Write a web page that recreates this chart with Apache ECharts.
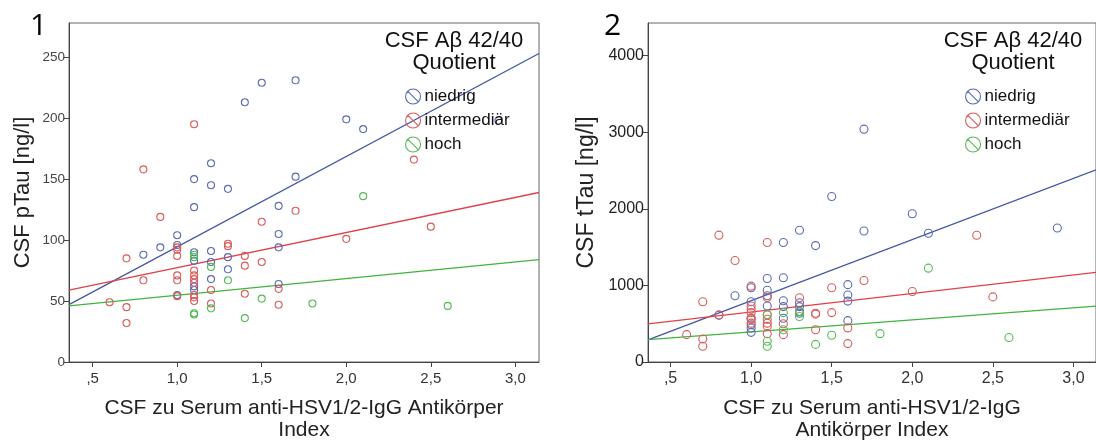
<!DOCTYPE html>
<html><head><meta charset="utf-8">
<script src="https://cdn.jsdelivr.net/npm/echarts@6/dist/echarts.min.js"></script>
<style>html,body{margin:0;padding:0;background:#fff}#c{width:1096px;height:446px}</style>
</head><body><div id="c"></div>
<script>
// ---- data ----
const groupNames = ['niedrig', 'intermediär', 'hoch'];
const xTickValues = [0.5, 1.0, 1.5, 2.0, 2.5, 3.0];
const xTickLabels = [',5', '1,0', '1,5', '2,0', '2,5', '3,0'];
const yTicksP = [0, 50, 100, 150, 200, 250];
const yTicksT = [0, 1000, 2000, 3000, 4000];

const pNiedrig = [[0.8,88],[0.9,94],[1.0,104],[1.0,96],[1.0,55],[1.1,150],[1.1,127],[1.1,90],[1.1,83],[1.1,62],[1.1,59],[1.2,163],[1.2,145],[1.2,91],[1.2,82],[1.2,68],[1.3,142],[1.3,86],[1.3,76],[1.4,213],[1.5,229],[1.6,128],[1.6,105],[1.6,94],[1.6,64],[1.7,231],[1.7,152],[2.0,199],[2.1,191],[2.9,198]];
const pIntermed = [[0.6,49],[0.7,85],[0.7,45],[0.7,32],[0.8,158],[0.8,67],[0.9,119],[1.0,94],[1.0,92],[1.0,87],[1.0,71],[1.0,67],[1.0,54],[1.1,195],[1.1,75],[1.1,71],[1.1,68],[1.1,65],[1.1,55],[1.1,53],[1.1,50],[1.2,59],[1.2,48],[1.3,97],[1.3,95],[1.4,87],[1.4,79],[1.4,56],[1.5,115],[1.5,82],[1.6,60],[1.6,47],[1.7,124],[2.0,101],[2.4,166],[2.5,111]];
const pHoch = [[1.1,88],[1.1,86],[1.1,40],[1.1,39],[1.2,78],[1.2,44],[1.3,67],[1.4,36],[1.5,52],[1.8,48],[2.1,136],[2.6,46]];
const pFitNiedrig = [[0.36,47],[3.14,253]];
const pFitIntermed = [[0.36,59],[3.14,139]];
const pFitHoch = [[0.36,46],[3.14,84]];

const tNiedrig = [[0.8,610],[0.9,865],[1.0,970],[1.0,787],[1.0,572],[1.0,486],[1.0,443],[1.0,387],[1.1,1090],[1.1,937],[1.1,865],[1.1,731],[1.2,1560],[1.2,1100],[1.2,800],[1.2,723],[1.2,572],[1.3,1720],[1.3,774],[1.3,723],[1.3,658],[1.3,637],[1.4,1520],[1.5,2160],[1.6,1010],[1.6,875],[1.6,795],[1.6,540],[1.7,3040],[1.7,1710],[2.0,1935],[2.1,1680],[2.9,1750]];
const tIntermed = [[0.6,357],[0.7,787],[0.7,301],[0.7,206],[0.8,1656],[0.8,615],[0.9,1325],[1.0,990],[1.0,731],[1.0,688],[1.0,645],[1.0,572],[1.0,550],[1.0,507],[1.1,1561],[1.1,843],[1.1,615],[1.1,559],[1.1,507],[1.1,465],[1.1,370],[1.2,499],[1.2,357],[1.3,839],[1.3,660],[1.4,637],[1.4,625],[1.4,421],[1.5,970],[1.5,645],[1.6,445],[1.6,240],[1.7,1065],[2.0,920],[2.4,1655],[2.5,850]];
const tHoch = [[1.1,620],[1.1,271],[1.1,206],[1.2,645],[1.2,421],[1.3,594],[1.3,660],[1.4,230],[1.5,350],[1.8,370],[2.1,1225],[2.6,320]];
const tFitNiedrig = [[0.36,290],[3.14,2510]];
const tFitIntermed = [[0.36,499],[3.14,1169]];
const tFitHoch = [[0.36,293],[3.14,729]];

// ---- styling ----
const ptColors = ['#5a6bb2', '#d95c5c', '#55b955'];
const lineColors = ['#4256a6', '#e0404a', '#3fb43f'];
const FONT = 'Liberation Sans';
const legendIcon = 'path://M0,10A10,10 0 1,1 20,10A10,10 0 1,1 0,10Z M2.5,2.5L17.5,17.5';

const chart = echarts.init(document.getElementById('c'));

function xAxisCfg(gi, name, fs) {
  return {
    type: 'value', gridIndex: gi, min: 0.36, max: 3.14,
    name: name, nameLocation: 'middle', nameGap: 35,
    nameTextStyle: {fontFamily: FONT, fontSize: 21, color: '#222', lineHeight: 22},
    axisLine: {show: true, lineStyle: {color: '#444', width: 1}},
    axisTick: {show: true, length: 5, lineStyle: {color: '#444'}, customValues: xTickValues},
    axisLabel: {fontFamily: FONT, fontSize: fs, color: '#333', margin: 9, customValues: xTickValues,
      formatter: v => { const i = xTickValues.findIndex(t => Math.abs(t - v) < 1e-6); return i >= 0 ? xTickLabels[i] : ''; }},
    splitLine: {show: false}
  };
}
function yAxisCfg(gi, name, max, ticks, fs, gap, nfs, col) {
  return {
    type: 'value', gridIndex: gi, min: 0, max: max,
    name: name, nameLocation: 'middle', nameGap: gap,
    nameTextStyle: {fontFamily: FONT, fontSize: nfs, color: '#222'},
    axisLine: {show: true, lineStyle: {color: '#444', width: 1}},
    axisTick: {show: true, length: 5, lineStyle: {color: '#444'}, customValues: ticks},
    axisLabel: {fontFamily: FONT, fontSize: fs, color: col, margin: 4, customValues: ticks,
      formatter: v => String(v)},
    splitLine: {show: false}
  };
}
function scatter(gi, idx, data, size) {
  return {
    type: 'scatter', name: groupNames[idx], xAxisIndex: gi, yAxisIndex: gi, data: data,
    symbol: 'circle', symbolSize: size, z: 3,
    itemStyle: {color: 'transparent', borderColor: ptColors[idx], borderWidth: 1.1, opacity: 1},
    emphasis: {disabled: true}
  };
}
function fit(gi, idx, data) {
  return {
    type: 'line', name: 'fit' + gi + idx, xAxisIndex: gi, yAxisIndex: gi, data: data,
    showSymbol: false, symbol: 'none', z: 2,
    lineStyle: {color: lineColors[idx], width: 1.3}, emphasis: {disabled: true}
  };
}
function legendCfg(left) {
  return {
    orient: 'vertical', left: left, top: 83, itemWidth: 15, itemHeight: 15, itemGap: 7,
    icon: legendIcon, selectedMode: false,
    textStyle: {fontFamily: FONT, fontSize: 17, color: '#111', padding: [0, 0, 0, -1]},
    data: groupNames.map((n, i) => ({name: n, itemStyle: {color: 'transparent', borderColor: ptColors[i], borderWidth: 1.1}}))
  };
}

chart.setOption({
  animation: false,
  grid: [
    {left: 69, top: 23, width: 470, height: 343, show: true, borderColor: '#666', borderWidth: 1},
    {left: 648, top: 23, width: 454, height: 343, show: true, borderColor: '#666', borderWidth: 1}
  ],
  xAxis: [
    xAxisCfg(0, 'CSF zu Serum anti-HSV1/2-IgG Antikörper\nIndex', 15),
    xAxisCfg(1, 'CSF zu Serum anti-HSV1/2-IgG\nAntikörper Index', 16)
  ],
  yAxis: [
    yAxisCfg(0, 'CSF pTau [ng/l]', 278, yTicksP, 13.5, 35, 22, '#444'),
    yAxisCfg(1, 'CSF tTau [ng/l]', 4426, yTicksT, 16, 50, 23, '#222')
  ],
  title: [
    {text: '1', left: 25, top: 6, textStyle: {fontFamily: 'Open Sans', fontSize: 30, fontWeight: 'normal', color: '#000'}},
    {text: '2', left: 599, top: 6, textStyle: {fontFamily: 'Open Sans', fontSize: 30, fontWeight: 'normal', color: '#000'}}
  ],
  legend: [legendCfg(400), legendCfg(960)],
  graphic: [
    {type: 'text', left: 454 - 75, top: 30, style: {text: 'CSF Aβ 42/40\nQuotient', width: 150, align: 'center', textAlign: 'center', font: '22px "Liberation Sans"', lineHeight: 22, fill: '#111'}},
    {type: 'text', left: 1013 - 75, top: 30, style: {text: 'CSF Aβ 42/40\nQuotient', width: 150, align: 'center', textAlign: 'center', font: '22px "Liberation Sans"', lineHeight: 22, fill: '#111'}}
  ],
  series: [
    fit(0, 0, pFitNiedrig), fit(0, 1, pFitIntermed), fit(0, 2, pFitHoch),
    scatter(0, 0, pNiedrig, 7), scatter(0, 1, pIntermed, 7), scatter(0, 2, pHoch, 7),
    fit(1, 0, tFitNiedrig), fit(1, 1, tFitIntermed), fit(1, 2, tFitHoch),
    scatter(1, 0, tNiedrig, 8), scatter(1, 1, tIntermed, 8), scatter(1, 2, tHoch, 8)
  ]
});
</script></body></html>
